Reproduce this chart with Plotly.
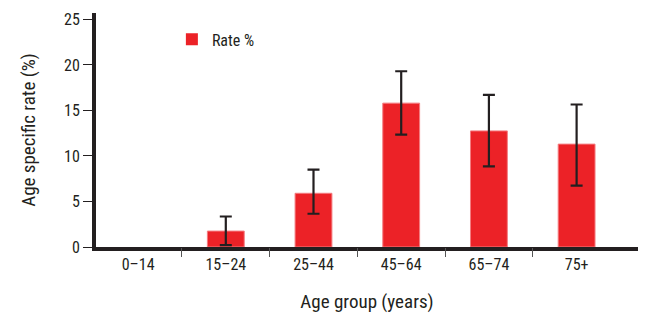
import plotly.graph_objects as go

categories = ["0–14", "15–24", "25–44", "45–64", "65–74", "75+"]
rates = [0, 1.75, 5.9, 15.8, 12.75, 11.3]
ci_upper = [None, 3.35, 8.5, 19.3, 16.7, 15.65]
ci_lower = [None, 0.2, 3.65, 12.35, 8.85, 6.75]
y_ticks = [0, 5, 10, 15, 20, 25]

x_pos = list(range(len(categories)))
outline_w = [0 if r == 0 else 1 for r in rates]
# only points with a confidence interval get error bars
ci_idx = [i for i, u in enumerate(ci_upper) if u is not None]
ci_x = [x_pos[i] for i in ci_idx]
ci_y = [rates[i] for i in ci_idx]
err_plus = [ci_upper[i] - rates[i] for i in ci_idx]
err_minus = [rates[i] - ci_lower[i] for i in ci_idx]

FONT = "Liberation Sans Narrow, Roboto Condensed, DejaVu Sans Condensed, sans-serif"
INK = "#231f20"

fig = go.Figure()
fig.add_trace(go.Bar(
    x=x_pos, y=rates, name="Rate %",
    width=0.42,
    marker=dict(color="#ec2227", line=dict(color="#f47c80", width=outline_w)),
))
fig.add_trace(go.Scatter(
    x=ci_x, y=ci_y, mode="markers", showlegend=False, hoverinfo="skip",
    marker=dict(size=1, opacity=0),
    error_y=dict(type="data", symmetric=False, array=err_plus, arrayminus=err_minus,
                 color=INK, thickness=2.2, width=6, visible=True),
))
# helper invisible trace on second x axis to carry boundary ticks
fig.add_trace(go.Scatter(x=[None], y=[None], xaxis="x2", showlegend=False, hoverinfo="skip"))

fig.update_layout(
    width=650, height=326,
    margin=dict(l=96, r=12, t=10, b=79),
    paper_bgcolor="white", plot_bgcolor="white",
    font=dict(family=FONT, size=16, color=INK),
    showlegend=True,
    legend=dict(x=0.14, y=0.96, xanchor="left", yanchor="top",
                bgcolor="rgba(0,0,0,0)", font=dict(size=16), itemwidth=30),
    xaxis=dict(range=[-0.48, 5.7], tickvals=x_pos, ticktext=categories,
               ticks="", showgrid=False, zeroline=False,
               showline=True, linecolor=INK, linewidth=4,
               title=dict(text="Age group (years)", standoff=22),
               tickfont=dict(size=16)),
    xaxis2=dict(overlaying="x", matches="x", side="bottom", range=[-0.48, 5.7],
                tickvals=[0.5, 1.5, 2.5, 3.5, 4.5], ticktext=[""] * 5,
                ticks="outside", ticklen=9, tickcolor="#555555", tickwidth=1.2,
                showgrid=False, zeroline=False, showline=False, showticklabels=False),
    yaxis=dict(range=[0, 25.7], tickvals=y_ticks, ticks="outside", ticklen=9,
               tickcolor=INK, tickwidth=1.2, showgrid=False, zeroline=False,
               showline=True, linecolor=INK, linewidth=4,
               title=dict(text="Age specific rate (%)", standoff=24),
               tickfont=dict(size=16)),
    bargap=0.58,
)

fig.write_html("out.html")
